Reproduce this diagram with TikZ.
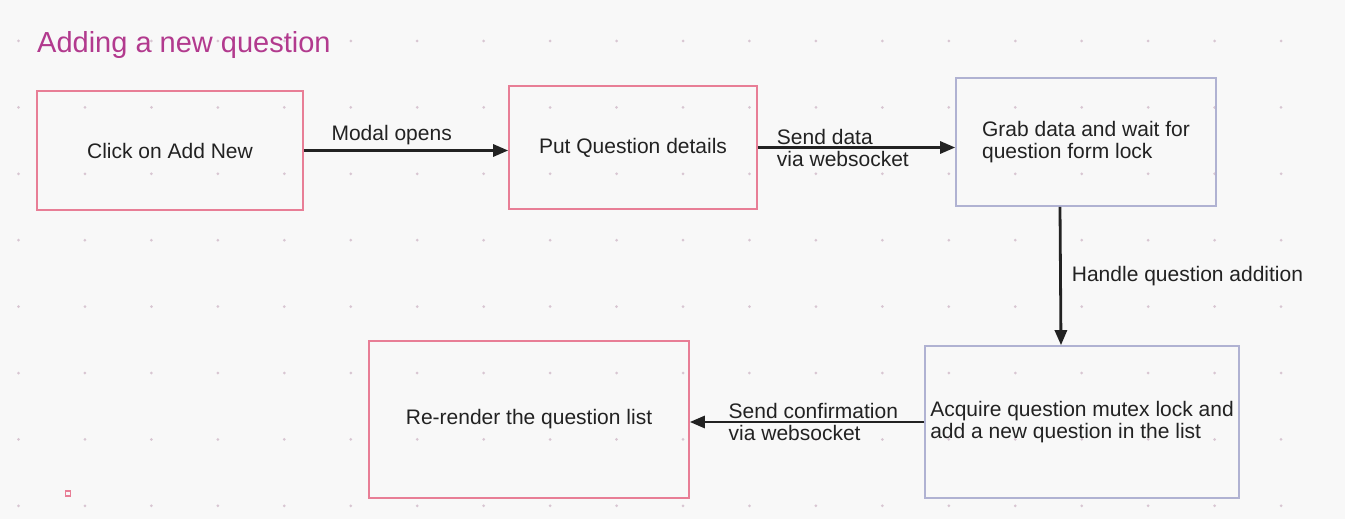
\documentclass[tikz,border=0pt]{standalone}
\usepackage{fontspec}
\setmainfont{Liberation Sans}
\usetikzlibrary{arrows.meta,calc}
\definecolor{paper}{RGB}{248,248,248}
\definecolor{griddot}{RGB}{216,198,210}
\definecolor{ink}{RGB}{34,34,34}
\definecolor{boxpink}{RGB}{232,126,150}
\definecolor{boxlav}{RGB}{176,178,210}
\definecolor{titlemag}{RGB}{178,58,142}
\begin{document}
\begin{tikzpicture}[x=1pt, y=-1pt, >={Triangle[length=15pt,width=12pt]},
    every node/.style={font=\fontsize{21}{22}\selectfont, text=ink},
    pinkbox/.style={draw=boxpink, line width=1.6pt, rectangle, inner sep=0pt},
    lavbox/.style={draw=boxlav, line width=1.6pt, rectangle, inner sep=0pt, align=left},
    link/.style={draw=ink, line width=2.8pt, ->},
    tag/.style={anchor=west, align=left, inner xsep=0pt}]
    \useasboundingbox[fill=paper] (0,0) rectangle (1345,519);

    % dot grid
    \foreach \i in {0,...,20}
      \foreach \j in {0,...,7}
        \fill[griddot] (18.5+66.45*\i, 41+66.4*\j) circle (1.5pt);

    \node[anchor=base west, inner sep=0pt, text=titlemag,
          font=\fontsize{29}{31}\selectfont] (title) at (37,52.5) {Adding a new question};

    \node[pinkbox, minimum width=266pt, minimum height=119pt] (click) at (170,150.5) {Click on Add New};
    \node[pinkbox, minimum width=248pt, minimum height=123pt] (details) at (633,147.5) {Put Question details};
    \node[lavbox, minimum width=260pt, minimum height=128pt]
         (grab) at (1086,142) {Grab data and wait for\\question form lock};
    \node[lavbox, minimum width=314pt, minimum height=152pt]
         (acquire) at (1082,422) {Acquire question mutex lock and\\add a new question in the list};
    \node[pinkbox, minimum width=320pt, minimum height=157pt] (rerender) at (529,419.5) {Re-render the question list};

    \draw[link] (click.east) -- (click.east -| details.west)
        node[above=1pt, pos=0.43] {Modal opens};
    \draw[link] (details.east) -- (details.east -| grab.west)
        node[tag, pos=0.09] {Send data\\via websocket};
    \draw[link] ([xshift=-26pt]grab.south) -- ([xshift=-21pt]acquire.north)
        node[tag, pos=0.5, xshift=10pt] {Handle question addition};
    \draw[link] (acquire.west) -- (acquire.west -| rerender.east)
        node[tag, pos=0.84] {Send confirmation\\via websocket};

    \draw[boxpink, line width=1.2pt] (65.5,491) rectangle (70.5,496);
\end{tikzpicture}
\end{document}
